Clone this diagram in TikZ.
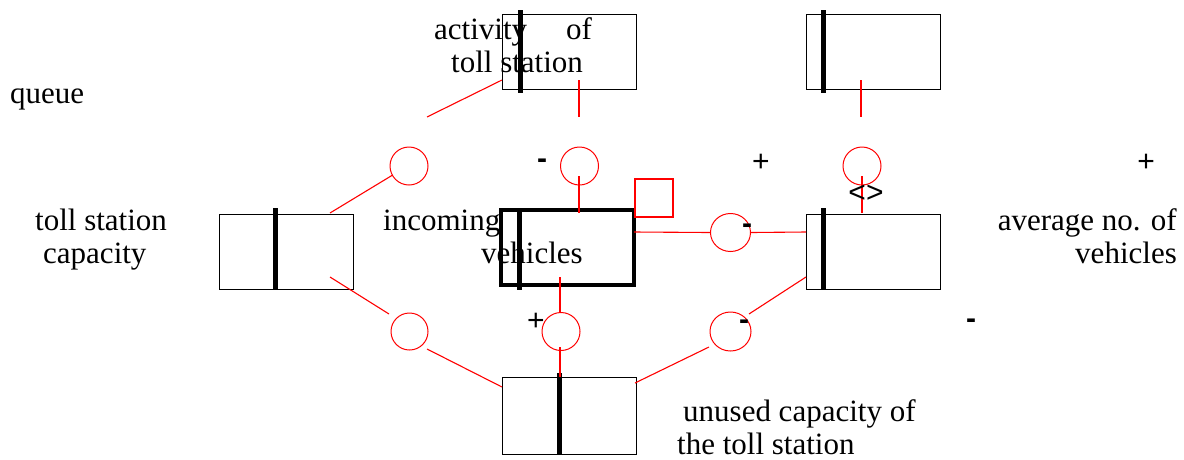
\documentclass[tikz,border=0pt]{standalone}
\usepackage{fontspec}
\setmainfont{Liberation Serif}
\newfontfamily\signfont{Liberation Sans}
\usetikzlibrary{shapes.geometric}
\begin{document}
\begin{tikzpicture}[x=1pt,y=-1pt,
 box/.style={draw=black, line width=1pt, rectangle, minimum width=134pt, minimum height=75pt, inner sep=0pt},
 flowbox/.style={box, line width=4.5pt, minimum width=133pt},
 bar/.style={line width=5pt, black},
 aux/.style={draw=red, line width=1pt, ellipse, inner sep=0pt, minimum width=38pt, minimum height=38pt},
 link/.style={draw=red, line width=1.1pt},
 lbl/.style={font=\fontsize{31}{33}\selectfont, inner sep=0pt},
 sign/.style={font=\signfont\fontsize{30}{33}\selectfont, inner sep=0pt, anchor=base},
 minus/.style={sign, font=\signfont\bfseries\fontsize{30}{33}\selectfont},
]
\useasboundingbox (0,0) rectangle (1184,459);

% boxes
\node[box] (act) at (569,51.5) {};
\node[box] (top2) at (873,51.5) {};
\node[box] (cap) at (286,251.5) {};
\node[flowbox] (inc) at (567.5,247.5) {};
\node[box] (avg) at (873,251.5) {};
\node[box, minimum height=77pt] (unu) at (569,415.5) {};
\node[draw=red, line width=1.1pt, rectangle, inner sep=0pt, minimum size=38pt] (sq) at (654,198) {};

% circles
\node[aux] (c1) at (409,166) {};
\node[aux] (c2) at (579.5,166) {};
\node[aux] (c3) at (862,166) {};
\node[aux, minimum width=40pt] (c4) at (730.5,232.5) {};
\node[aux, minimum width=37pt, minimum height=37pt] (d1) at (409.5,331.5) {};
\node[aux] (d2) at (561,331.5) {};
\node[aux, minimum width=41pt, minimum height=39pt] (d3) at (730.5,331.5) {};

% texts (base anchor = baseline of the last line)
\node[lbl, anchor=base west] (queue) at (10,103) {queue};
\node[lbl, anchor=base west, align=left] (capl) at (35,263) {toll station\\\hspace*{8pt}capacity};
\node[lbl, anchor=base west, align=left] (incl) at (383,263) {incoming\\\hspace*{98pt}vehicles};
\node[lbl, anchor=base west, align=left] (actl) at (434,72) {activity\hspace*{39pt}of\\\hspace*{17pt}toll station};
\node[lbl, anchor=base east, align=right] (avgl) at (1177,263) {average no. of\\vehicles};
\node[lbl, anchor=base west, align=left] (unl) at (677,454) {\hspace*{6pt}unused capacity of\\the toll station};

% bars
\draw[bar] (520,10) -- (520,93);
\draw[bar] (823,10) -- (823,93);
\draw[bar] (275,208) -- (275,290);
\draw[bar] (519,208) -- (519,290);
\draw[bar] (823,208) -- (823,290);
\draw[bar] (559,373) -- (559,455);

% connector end points
\coordinate (p1a) at (502,80);  \coordinate (p1b) at (427,117);
\coordinate (p2a) at (579,80);  \coordinate (p2b) at (579,117);
\coordinate (p3a) at (861,80);  \coordinate (p3b) at (861,117);
\coordinate (p4b) at (330,213);
\coordinate (p5a) at (579,176); \coordinate (p5b) at (579,213);
\coordinate (p6a) at (862,176); \coordinate (p6b) at (862,213);
\coordinate (p7a) at (634,232);
\coordinate (p8b) at (806,232);
\coordinate (p9a) at (806,277); \coordinate (p9b) at (749,314);
\coordinate (p10a) at (330,277); \coordinate (p10b) at (389,314);
\coordinate (p11a) at (560,277); \coordinate (p11b) at (560,313);
\coordinate (p12a) at (427,349); \coordinate (p12b) at (502,387);
\coordinate (p13a) at (560,347); \coordinate (p13b) at (560,377);
\coordinate (p14a) at (709,347); \coordinate (p14b) at (635,383);

\draw[link] (p1a) -- (p1b);
\draw[link] (p2a) -- (p2b);
\draw[link] (p3a) -- (p3b);
\draw[link] (c1.209) -- (p4b);
\draw[link] (p5a) -- (p5b);
\draw[link] (p6a) -- (p6b);
\draw[link] (p7a) -- (c4.west);
\draw[link] (c4.east) -- (p8b);
\draw[link] (p9a) -- (p9b);
\draw[link] (p10a) -- (p10b);
\draw[link] (p11a) -- (p11b);
\draw[link] (p12a) -- (p12b);
\draw[link] (p13a) -- (p13b);
\draw[link] (p14a) -- (p14b);

% signs
\node[minus] (s1) at (542,168) {-};
\node[sign] (s2) at (761,171.5) {+};
\node[sign] (s3) at (1146,171.5) {+};
\node[sign] (s4) at (866,202.5) {<>};
\node[minus] (s5) at (747,233) {-};
\node[minus] (s6) at (744,329) {-};
\node[minus] (s7) at (971,328) {-};
\node[sign] (s8) at (536,330.5) {+};
\end{tikzpicture}
\end{document}
